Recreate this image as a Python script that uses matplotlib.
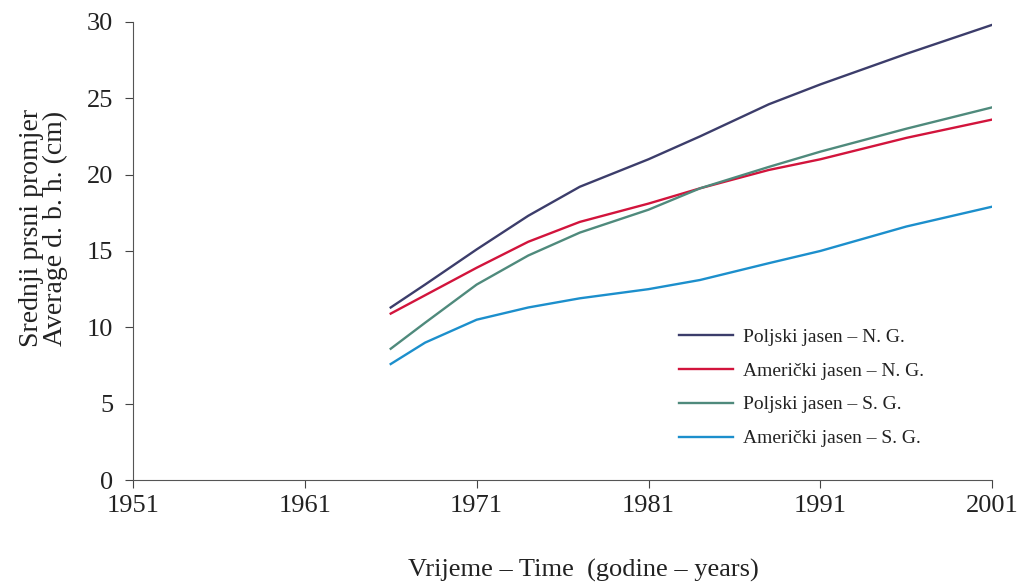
import matplotlib
matplotlib.use("Agg")
import matplotlib.pyplot as plt

years = [1966, 1968, 1971, 1974, 1977, 1981, 1984, 1988, 1991, 1996, 2001]
poljski_ng = [11.3, 12.8, 15.1, 17.3, 19.2, 21.0, 22.5, 24.6, 25.9, 27.9, 29.8]
americki_ng = [10.9, 12.1, 13.9, 15.6, 16.9, 18.1, 19.1, 20.3, 21.0, 22.4, 23.6]
poljski_sg = [8.6, 10.3, 12.8, 14.7, 16.2, 17.7, 19.1, 20.5, 21.5, 23.0, 24.4]
americki_sg = [7.6, 9.0, 10.5, 11.3, 11.9, 12.5, 13.1, 14.2, 15.0, 16.6, 17.9]
labels = ["Poljski jasen – N. G.", "Američki jasen – N. G.",
          "Poljski jasen – S. G.", "Američki jasen – S. G."]
colors = ["#3c3d6b", "#d2143c", "#4f8a7c", "#1c8fcc"]
xticks = [1951, 1961, 1971, 1981, 1991, 2001]
yticks = [0, 5, 10, 15, 20, 25, 30]

plt.rcParams['font.family'] = ['Liberation Serif', 'DejaVu Serif']

fig = plt.figure(figsize=(10.22, 5.87), dpi=100)
ax = fig.add_axes([0.130, 0.182, 0.841, 0.781])

for series, lab, col in zip([poljski_ng, americki_ng, poljski_sg, americki_sg], labels, colors):
    ax.plot(years, series, color=col, lw=1.7, label=lab)

ax.set_xlim(1951, 2001)
ax.set_ylim(0, 30)
ax.set_xticks(xticks)
ax.set_yticks(yticks)
ax.tick_params(labelsize=19, colors="#444444", labelcolor="#222222", length=6, width=0.8)
ax.tick_params(axis="y", pad=8)
ax.tick_params(axis="x", pad=5)
for s in ["top", "right"]:
    ax.spines[s].set_visible(False)
for s in ["left", "bottom"]:
    ax.spines[s].set_color("#555555")
    ax.spines[s].set_linewidth(0.8)

fig.text(0.571, 0.028, "Vrijeme – Time  (godine – years)", fontsize=19, color="#222222",
         ha="center", va="center")
ax.set_ylabel("Srednji prsni promjer\nAverage d. b. h. (cm)", fontsize=20, color="#222222",
              linespacing=0.92)
ax.yaxis.set_label_coords(-0.076, 0.55)

leg = ax.legend(loc="upper left", bbox_to_anchor=(0.635, 0.332), frameon=False, fontsize=14,
                handlelength=2.8, labelspacing=0.84, handletextpad=0.5,
                borderpad=0, borderaxespad=0)
for t in leg.get_texts():
    t.set_color("#222222")

fig.savefig("out.png", dpi=100)
